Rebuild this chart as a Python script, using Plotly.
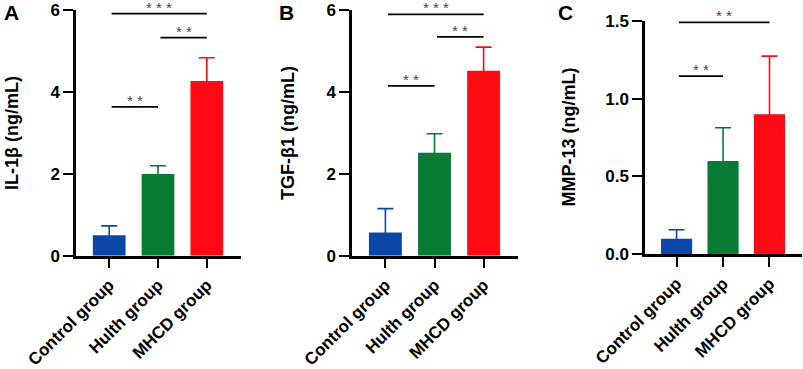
import plotly.graph_objects as go

groups = ["Control group", "Hulth group", "MHCD group"]
colors = ["#0A47A8", "#077A33", "#FF0A14"]

panel_letters = ["A", "B", "C"]
y_titles = ["IL-1β (ng/mL)", "TGF-β1 (ng/mL)", "MMP-13 (ng/mL)"]

il1b_mean = [0.50, 2.00, 4.27]
il1b_err = [0.23, 0.20, 0.57]
tgfb1_mean = [0.57, 2.52, 4.52]
tgfb1_err = [0.58, 0.46, 0.58]
mmp13_mean = [0.10, 0.60, 0.90]
mmp13_err = [0.058, 0.213, 0.373]

y_ticks_A = [0, 2, 4, 6]
y_ticks_B = [0, 2, 4, 6]
y_ticks_C = [0.0, 0.5, 1.0, 1.5]

# significance comparisons: (group i, group j, bracket level, label)
sig_A = [(0, 2, 5.92, "***"), (1, 2, 5.33, "**"), (0, 1, 3.64, "**")]
sig_B = [(0, 2, 5.90, "***"), (1, 2, 5.35, "**"), (0, 1, 4.15, "**")]
sig_C = [(0, 2, 1.49, "**"), (0, 1, 1.145, "**")]

panels = [
    (il1b_mean, il1b_err, y_ticks_A, sig_A, [0, 6], "d"),
    (tgfb1_mean, tgfb1_err, y_ticks_B, sig_B, [0, 6], "d"),
    (mmp13_mean, mmp13_err, y_ticks_C, sig_C, [0, 1.5], ".1f"),
]

W, H = 803, 369
x_dom_px = [(76, 241), (352, 518), (645, 802)]
y_dom_px = [(10.3, 255.7), (10.3, 255.7), (20.8, 254.3)]
title_x_px = [12, 288, 569]
letter_x_px = [11, 286, 565]

FONT = "Liberation Sans, Arial, sans-serif"

fig = go.Figure()
shapes = []
annotations = []

for p, (means, errs, yticks, sigs, yr, fmt) in enumerate(panels):
    xa = "x" if p == 0 else f"x{p+1}"
    ya = "y" if p == 0 else f"y{p+1}"
    for g, name in enumerate(groups):
        fig.add_trace(go.Bar(
            x=[name], y=[means[g]], xaxis=xa, yaxis=ya,
            width=0.67, marker=dict(color=colors[g], line=dict(width=0)),
            # lower part of the error bar falls inside the same-coloured bar (hidden)
            error_y=dict(type="data", array=[errs[g]], arrayminus=[means[g] / 2],
                         symmetric=False, color=colors[g], thickness=1.6, width=8),
            showlegend=False,
        ))
    xd = [x_dom_px[p][0] / W, x_dom_px[p][1] / W]
    yd = [1 - y_dom_px[p][1] / H, 1 - y_dom_px[p][0] / H]
    axkey = "xaxis" if p == 0 else f"xaxis{p+1}"
    aykey = "yaxis" if p == 0 else f"yaxis{p+1}"
    fig.update_layout(**{
        axkey: dict(domain=xd, anchor=ya, type="category", range=[-0.68, 2.7],
                    automargin=False,
                    showline=True, linecolor="black", linewidth=2.5,
                    ticks="outside", ticklen=10, tickwidth=2.2, tickcolor="black",
                    tickangle=-45, showgrid=False, zeroline=False,
                    tickfont=dict(family=FONT, size=17, color="black", weight="bold")),
        aykey: dict(domain=yd, anchor=xa, range=yr, tickvals=yticks, tickformat=fmt,
                    automargin=False,
                    showline=True, linecolor="black", linewidth=2.5,
                    ticks="outside", ticklen=10, tickwidth=2.2, tickcolor="black",
                    showgrid=False, zeroline=False,
                    tickfont=dict(family=FONT, size=17, color="black", weight="bold")),
    })
    for (i, j, lvl, lab) in sigs:
        shapes.append(dict(type="line", xref=xa, yref=ya, x0=i + 0.05, x1=j + 0.0,
                           y0=lvl, y1=lvl, line=dict(color="black", width=1.8)))
        annotations.append(dict(xref=xa, yref=ya, x=(i + 0.05 + j) / 2, y=lvl,
                                text=" ".join(lab), showarrow=False,
                                yanchor="bottom", yshift=-4,
                                font=dict(family=FONT, size=15, color="#444444")))
    annotations.append(dict(xref="paper", yref="paper", x=title_x_px[p] / W,
                            y=1 - (y_dom_px[p][0] + y_dom_px[p][1]) / 2 / H,
                            text=y_titles[p], textangle=-90, showarrow=False,
                            xanchor="center", yanchor="middle",
                            font=dict(family=FONT, size=18, color="black", weight="bold")))
    annotations.append(dict(xref="paper", yref="paper", x=letter_x_px[p] / W,
                            y=1 - 13 / H, text=panel_letters[p], showarrow=False,
                            xanchor="center", yanchor="middle",
                            font=dict(family=FONT, size=21, color="black", weight="bold")))

fig.update_layout(
    width=W, height=H, margin=dict(l=0, r=0, t=0, b=0, autoexpand=False),
    paper_bgcolor="white", plot_bgcolor="white",
    barmode="overlay", shapes=shapes, annotations=annotations,
)

fig.write_html("out.html", config={"displayModeBar": False},
               post_script="document.body.style.margin='0';")
